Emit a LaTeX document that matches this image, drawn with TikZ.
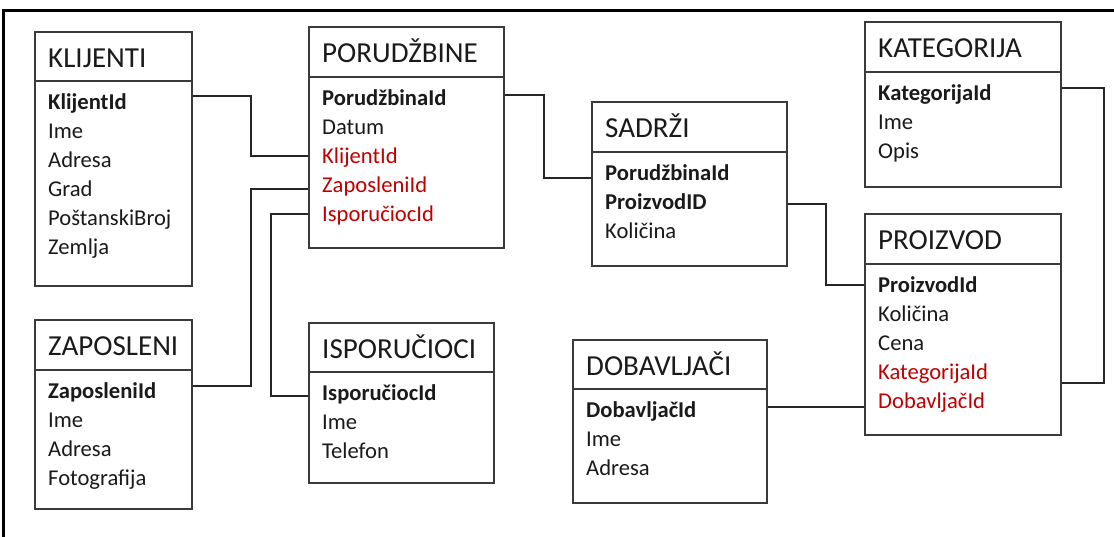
\documentclass[tikz,border=0pt]{standalone}
\usepackage{fontspec}
\setmainfont{Carlito}
\usetikzlibrary{fit}
\definecolor{fkred}{HTML}{C00000}
\definecolor{boxgray}{HTML}{3A3A3A}
\definecolor{txt}{HTML}{1A1A1A}
\tikzset{
  tbl/.style={draw=boxgray, line width=1.8pt, inner sep=0pt, fill=white},
  divline/.style={draw=boxgray, line width=1.8pt},
  ttl/.style={anchor=base west, inner sep=0pt, font=\fontsize{29}{30}\selectfont, text=txt},
  fld/.style={anchor=base west, inner sep=0pt, font=\fontsize{22.6}{26}\selectfont, text=txt, text height=16pt, text depth=1pt},
  key/.style={fld, font=\fontsize{22.6}{26}\selectfont\bfseries},
  fk/.style={fld, text=fkred},
  conn/.style={draw=black!85, line width=1.2pt},
  frameline/.style={draw=black, line width=3pt}
}
% name, x1, x2, top, divider, bottom, title
\newcommand\dbbox[7]{%
  \node[tbl, fit={(#2,#4) (#3,#6)}] (#1) {};
  \draw[divline] (#1.west |- 0,#5) -- (#1.east |- 0,#5);
  \node[ttl] (#1-t) at (#2+13,#4+35) {#7};
}
\begin{document}
\begin{tikzpicture}[x=1pt,y=-1pt]
\useasboundingbox (0,0) rectangle (1114,536);
\fill[white] (0,0) rectangle (1114,536);
\draw[frameline] (3,545) -- (3,10) -- (1125,10);

% tables
\dbbox{kl}{35}{192}{32}{81}{286}{KLIJENTI}
\foreach \s/\t [count=\i] in {key/KlijentId, fld/Ime, fld/Adresa, fld/Grad, fld/PoštanskiBroj, fld/Zemlja}
  \node[\s] (kl-\i) at (48, 81+28+29*\i-29) {\t};

\dbbox{za}{35}{192}{320}{370}{509}{ZAPOSLENI}
\foreach \s/\t [count=\i] in {key/ZaposleniId, fld/Ime, fld/Adresa, fld/Fotografija}
  \node[\s] (za-\i) at (48, 370+28+29*\i-29) {\t};

\dbbox{po}{309}{504}{27}{77}{248}{PORUDŽBINE}
\foreach \s/\t [count=\i] in {key/PorudžbinaId, fld/Datum, fk/KlijentId, fk/ZaposleniId, fk/IsporučiocId}
  \node[\s] (po-\i) at (322, 77+28+29*\i-29) {\t};

\dbbox{is}{309}{494}{323}{372}{483}{ISPORUČIOCI}
\foreach \s/\t [count=\i] in {key/IsporučiocId, fld/Ime, fld/Telefon}
  \node[\s] (is-\i) at (322, 372+28+29*\i-29) {\t};

\dbbox{sa}{592}{787}{102}{152}{266}{SADRŽI}
\foreach \s/\t [count=\i] in {key/PorudžbinaId, key/ProizvodID, fld/Količina}
  \node[\s] (sa-\i) at (605, 152+28+29*\i-29) {\t};

\dbbox{do}{573}{767}{340}{389}{503}{DOBAVLJAČI}
\foreach \s/\t [count=\i] in {key/DobavljačId, fld/Ime, fld/Adresa}
  \node[\s] (do-\i) at (586, 389+28+29*\i-29) {\t};

\dbbox{ka}{865}{1061}{22}{72}{187}{KATEGORIJA}
\foreach \s/\t [count=\i] in {key/KategorijaId, fld/Ime, fld/Opis}
  \node[\s] (ka-\i) at (878, 72+28+29*\i-29) {\t};

\dbbox{pr}{865}{1061}{214}{264}{435}{PROIZVOD}
\foreach \s/\t [count=\i] in {key/ProizvodId, fld/Količina, fld/Cena, fk/KategorijaId, fk/DobavljačId}
  \node[\s] (pr-\i) at (878, 264+28+29*\i-29) {\t};

% connectors
\draw[conn] (kl.east |- 0,96) -| (251,156) -- (po.west |- 0,156);
\draw[conn] (za.east |- 0,386) -| (251,189) -- (po.west |- 0,189);
\draw[conn] (is.west |- 0,396) -| (271,214) -- (po.west |- 0,214);
\draw[conn] (po.east |- 0,95) -| (544,178) -- (sa.west |- 0,178);
\draw[conn] (sa.east |- 0,204) -| (826,285) -- (pr.west |- 0,285);
\draw[conn] (ka.east |- 0,88) -| (1104,383) -- (pr.east |- 0,383);
\draw[conn] (do.east |- 0,407) -- (pr.west |- 0,407);
\end{tikzpicture}
\end{document}
